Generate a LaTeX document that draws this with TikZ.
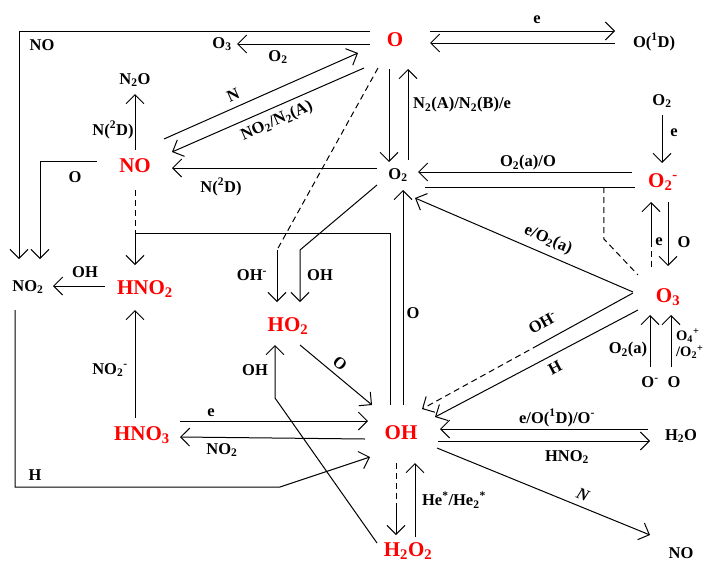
\documentclass[tikz,border=0pt]{standalone}
\usepackage{fontspec}
\setmainfont{Liberation Serif}
\usetikzlibrary{arrows.meta,calc}
\newcommand\mysub[1]{\textsubscript{#1}}
\newcommand\mysup[1]{\textsuperscript{#1}}
\begin{document}
\begin{tikzpicture}[x=1pt,y=-1pt,
  lbl/.style={font=\fontsize{16.5}{18}\selectfont\bfseries, inner sep=1pt},
  spc/.style={font=\fontsize{21}{23}\selectfont\bfseries, text=red, inner sep=1pt},
  ln/.style={line width=1pt, draw=black},
  arr/.style={ln, -{Straight Barb[length=9pt,width=18pt]}},
  dsh/.style={ln, dash pattern=on 6pt off 4pt},
]
\fill[white] (0,0) rectangle (704,565);
\useasboundingbox (0,0) rectangle (704,565);

% species
\node[spc] (nO) at (395,40) {O};
\node[lbl] (nO1D) at (654,42) {O(\mysup{1}D)};
\node[lbl] (nO3a) at (222,44) {O\mysub{3}};
\node[lbl] (nN2O) at (135,80) {N\mysub{2}O};
\node[spc] (nNO) at (135,166) {NO};
\node[lbl] (nO2c) at (398,175) {O\mysub{2}};
\node[lbl] (nO2tr) at (662,101) {O\mysub{2}};
\node[spc] (nO2m) at (663,182) {O\mysub{2}\mysup{-}};
\node[lbl] (nNO2) at (28,287) {NO\mysub{2}};
\node[spc] (nHNO2) at (145,289) {HNO\mysub{2}};
\node[spc] (nHO2) at (288,326) {HO\mysub{2}};
\node[spc] (nO3) at (668,297) {O\mysub{3}};
\node[spc] (nHNO3) at (142,435) {HNO\mysub{3}};
\node[spc] (nOH) at (401,433) {OH};
\node[lbl] (nH2O) at (681,436) {H\mysub{2}O};
\node[spc] (nH2O2) at (408,551) {H\mysub{2}O\mysub{2}};
\node[lbl] (nNObr) at (681,553) {NO};
\node[lbl] (nOm) at (650,382) {O\mysup{-}};
\node[lbl] (nOb) at (674,382) {O};

% connectors
\draw[arr] ([shift={(-25,-9)}]nO.center) -| ([shift={(-9,-28)}]nNO2.center);
\draw[arr] ([shift={(-25,4)}]nO.center) -- ([shift={(15,0)}]nO3a.center);
\draw[arr] ([shift={(-38,-5)}]nNO.center) -| ([shift={(12,-28)}]nNO2.center);
\draw[arr] ([shift={(0,-16)}]nNO.center) -- ([shift={(0,14)}]nN2O.center);
\draw[arr] ([shift={(29,-27)}]nNO.center) -- ([shift={(-37,13)}]nO.center);
\draw[arr] ([shift={(-31,28)}]nO.center) -- ([shift={(37,-14)}]nNO.center);
\draw[arr] ([shift={(-21,-7)}]nO2c.center) -- ([shift={(37,2)}]nNO.center);
\draw[arr] ([shift={(-6,29)}]nO.center) -- ([shift={(-9,-13)}]nO2c.center);
\draw[arr] ([shift={(10,-15)}]nO2c.center) -- ([shift={(13,29)}]nO.center);
\draw[arr] ([shift={(35,-9)}]nO.center) -- ([shift={(-39,-11)}]nO1D.center);
\draw[arr] ([shift={(-39,1)}]nO1D.center) -- ([shift={(35,3)}]nO.center);
\draw[arr] ([shift={(-31,-10)}]nO2m.center) -- ([shift={(20,-3)}]nO2c.center);
\draw[ln] ([shift={(27,12)}]nO2c.center) -- ([shift={(-28,5)}]nO2m.center) coordinate[pos=0.852] (dA);
\draw[arr] ([shift={(0,14)}]nO2tr.center) -- ([shift={(-1,-19)}]nO2m.center);
\coordinate (c15) at ([shift={(-17,-55)}]nO3.center);
\draw[dsh] ([shift={(-17,-30)}]nO3.center) -- (c15);
\draw[arr] (c15) -- ([shift={(-12,20)}]nO2m.center);
\draw[arr] ([shift={(5,20)}]nO2m.center) -- ([shift={(0,-31)}]nO3.center);
\draw[dsh] (dA) -- ++(0,52) -- ([shift={(-30,-22)}]nO3.center);
\draw[arr] ([shift={(-35,-5)}]nO3.center) -- ([shift={(17,23)}]nO2c.center);
\coordinate (s19) at ([shift={(-35,-4)}]nO3.center);
\coordinate (e19) at ([shift={(21,-24)}]nOH.center);
\coordinate (c19) at ($(s19)!0.45!(e19)$);
\draw[ln] (s19) -- (c19);
\draw[dsh, -{Straight Barb[length=9pt,width=18pt]}] (c19) -- (e19);
\draw[arr] ([shift={(-30,13)}]nO3.center) -- ([shift={(34,-16)}]nOH.center);
\coordinate (c21) at (277,250);
\draw[dsh] ([shift={(-17,28)}]nO.center) -- (c21);
\draw[arr] (c21) -- ([shift={(-11,-24)}]nHO2.center);
\coordinate (c22) at (300,250);
\draw[arr] ([shift={(-21,10)}]nO2c.center) -- (c22) -- ([shift={(12,-24)}]nHO2.center);
\draw[arr] ([shift={(12,19)}]nHO2.center) -- ([shift={(-29,-28)}]nOH.center);
\coordinate (c24) at (275,398);
\draw[arr] ([shift={(-31,-8)}]nH2O2.center) -- (c24) -- ([shift={(-13,19)}]nHO2.center);
\coordinate (c25) at (135,233);
\draw[dsh] ([shift={(0,24)}]nNO.center) -- (c25);
\draw[arr] (c25) -- ([shift={(-10,-24)}]nHNO2.center);
\draw[ln] (c25) -| ([shift={(-11,-28)}]nOH.center);
\draw[arr] ([shift={(2,-28)}]nOH.center) -- ([shift={(5,15)}]nO2c.center);
\draw[arr] ([shift={(-40,-3)}]nHNO2.center) -- ([shift={(25,-1)}]nNO2.center);
\draw[arr] ([shift={(-7,-17)}]nHNO3.center) -- ([shift={(-10,21)}]nHNO2.center);
\draw[arr] ([shift={(38,-14)}]nHNO3.center) -- ([shift={(-33,-12)}]nOH.center);
\draw[arr] ([shift={(-36,6)}]nOH.center) -- ([shift={(38,2)}]nHNO3.center);
\coordinate (c31) at (280,487);
\draw[arr] ([shift={(-13,23)}]nNO2.center) |- (c31) -- ([shift={(-31,24)}]nOH.center);
\draw[arr] ([shift={(-33,-7)}]nH2O.center) -- ([shift={(39,-4)}]nOH.center);
\draw[arr] ([shift={(37,8)}]nOH.center) -- ([shift={(-31,5)}]nH2O.center);
\draw[arr] ([shift={(36,15)}]nOH.center) -- ([shift={(-31,-18)}]nNObr.center);
\coordinate (c35) at (396,507);
\draw[dsh] ([shift={(-5,30)}]nOH.center) -- (c35);
\draw[arr] (c35) -- ([shift={(-12,-16)}]nH2O2.center);
\draw[arr] ([shift={(7,-14)}]nH2O2.center) -- ([shift={(14,30)}]nOH.center);
\draw[arr] ([shift={(0,-15)}]nOm.center) -- ([shift={(-18,18)}]nO3.center);
\draw[arr] ([shift={(-3,-15)}]nOb.center) -- ([shift={(3,18)}]nO3.center);

% labels
\node[lbl] (l1) at (42,45) {NO};
\node[lbl] (l2) at (278,57) {O\mysub{2}};
\node[lbl] (l3) at (75,177) {O};
\node[lbl] (l4) at (113,130) {N(\mysup{2}D)};
\node[lbl, rotate=24] (l5) at (233,95) {N};
\node[lbl, rotate=24] (l6) at (277,121) {NO\mysub{2}/N\mysub{2}(A)};
\node[lbl] (l7) at (221,187) {N(\mysup{2}D)};
\node[lbl, anchor=west] (l8) at (412,105) {N\mysub{2}(A)/N\mysub{2}(B)/e};
\node[lbl] (l9) at (537,20) {e};
\node[lbl] (l10) at (528,163) {O\mysub{2}(a)/O};
\node[lbl] (l11) at (674,133) {e};
\node[lbl] (l12) at (659,242) {e};
\node[lbl] (l13) at (684,242) {O};
\node[lbl, rotate=-23] (l14) at (548,240) {e/O\mysub{2}(a)};
\node[lbl, rotate=29] (l15) at (543,323) {OH\mysup{-}};
\node[lbl, rotate=28] (l16) at (555,368) {H};
\node[lbl] (l17) at (628,350) {O\mysub{2}(a)};
\node[lbl, anchor=west, align=left, font=\fontsize{14.5}{16.5}\selectfont\bfseries, inner sep=0pt] (l18) at (676,344) {O\mysub{4}\mysup{+}\\/O\mysub{2}\mysup{+}};
\node[lbl] (l19) at (252,275) {OH\mysup{-}};
\node[lbl] (l20) at (320,275) {OH};
\node[lbl] (l21) at (255,370) {OH};
\node[lbl, rotate=-40] (l22) at (340,363) {O};
\node[lbl] (l23) at (413,313) {O};
\node[lbl] (l24) at (85,272) {OH};
\node[lbl] (l25) at (110,370) {NO\mysub{2}\mysup{-}};
\node[lbl] (l26) at (211,413) {e};
\node[lbl] (l27) at (222,450) {NO\mysub{2}};
\node[lbl] (l28) at (35,475) {H};
\node[lbl] (l29) at (557,418) {e/O(\mysup{1}D)/O\mysup{-}};
\node[lbl] (l30) at (567,457) {HNO\mysub{2}};
\node[lbl, rotate=-22] (l31) at (583,495) {\itshape N};
\node[lbl] (l32) at (454,500) {He\mysup{*}/He\mysub{2}\mysup{*}};
\end{tikzpicture}
\end{document}
